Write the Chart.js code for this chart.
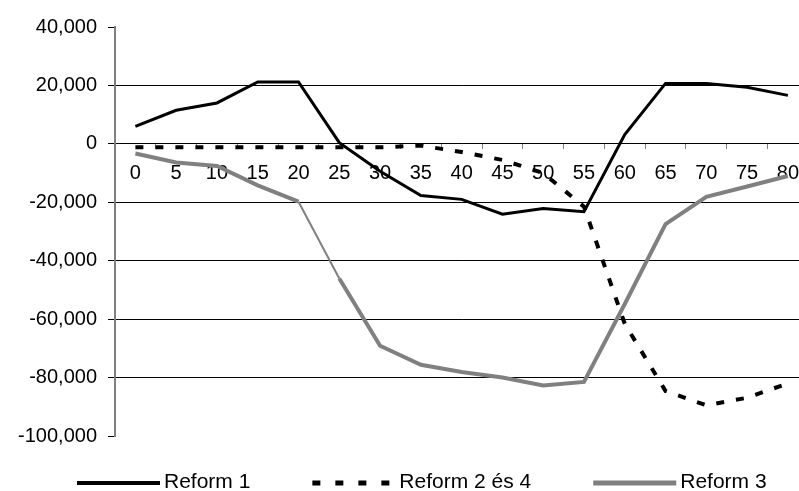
<!DOCTYPE html>
<html>
<head>
<meta charset="utf-8">
<script src="https://cdn.jsdelivr.net/npm/chart.js@4/dist/chart.umd.min.js"></script>
<style>
  html, body { margin: 0; padding: 0; background: #fff; overflow: hidden; }
  #wrap { width: 812px; height: 491px; }
</style>
</head>
<body>
<div id="wrap"><canvas id="c" width="812" height="491"></canvas></div>
<script>
// ---- data ----
const categories = ['0','5','10','15','20','25','30','35','40','45','50','55','60','65','70','75','80'];
const seriesNames = ['Reform 1', 'Reform 2 és 4', 'Reform 3'];
const reform1 = [6000, 11500, 14000, 21200, 21200, 400, -9400, -17700, -19000, -24100, -22100, -23200, 3200, 20700, 20700, 19400, 16600];
const reform2and4 = [-1200, -1200, -1200, -1200, -1200, -1200, -1200, -600, -2800, -5500, -10000, -21500, -61600, -84600, -89500, -86900, -82000];
const reform3 = [-3300, -6400, -7600, -14200, -19800, -46100, -69100, -75600, -78100, -80000, -82700, -81500, -54800, -27500, -18100, -14600, -11000];
const yTickValues = [40000, 20000, 0, -20000, -40000, -60000, -80000, -100000];

// ---- style ----
const FONT = "'Liberation Sans', Arial, sans-serif";
const GRAY = '#808080';

// custom legend drawn below the plot (keeps unequal spacing like the original)
const legendStyles = [
  { width: 4, dash: [] },
  { width: 5, dash: [8, 15] },
  { width: 5, dash: [] }
];
const bottomLegend = {
  id: 'bottomLegend',
  afterDraw(chart) {
    const ctx = chart.ctx;
    const startX = 77, y = 483, boxW = 83, textGap = 4, itemGap = 62;
    ctx.save();
    ctx.font = '21px ' + FONT;
    ctx.textBaseline = 'middle';
    ctx.textAlign = 'left';
    let x = startX;
    chart.data.datasets.forEach((ds, i) => {
      const st = legendStyles[i];
      ctx.beginPath();
      ctx.setLineDash(st.dash);
      ctx.lineWidth = st.width;
      ctx.strokeStyle = ds.borderColor;
      ctx.lineCap = 'butt';
      ctx.moveTo(x, y);
      ctx.lineTo(x + boxW, y);
      ctx.stroke();
      ctx.setLineDash([]);
      ctx.fillStyle = '#000';
      const tx = x + boxW + textGap;
      ctx.fillText(ds.label, tx, y - 1);
      x = tx + ctx.measureText(ds.label).width + itemGap;
    });
    ctx.restore();
  }
};

new Chart(document.getElementById('c'), {
  type: 'line',
  data: {
    labels: categories,
    datasets: [
      {
        label: seriesNames[0],
        data: reform1,
        borderColor: '#000',
        backgroundColor: '#000',
        borderWidth: 3,
        pointRadius: 0,
        tension: 0,
        fill: false
      },
      {
        label: seriesNames[1],
        data: reform2and4,
        borderColor: '#000',
        backgroundColor: '#000',
        borderWidth: 4,
        borderDash: [8, 12],
        pointRadius: 0,
        tension: 0,
        fill: false
      },
      {
        label: seriesNames[2],
        data: reform3,
        borderColor: GRAY,
        backgroundColor: GRAY,
        borderWidth: 4,
        pointRadius: 0,
        tension: 0,
        fill: false,
        segment: {
          borderWidth: c => (c.p0DataIndex === 4 ? 2 : 4)
        }
      }
    ]
  },
  options: {
    responsive: false,
    animation: false,
    devicePixelRatio: 1,
    layout: { padding: { top: 27, left: 0, right: 0, bottom: 55 } },
    plugins: {
      legend: { display: false },
      tooltip: { enabled: false }
    },
    scales: {
      x: {
        type: 'category',
        position: { y: 0 },
        offset: true,
        grid: {
          display: true,
          offset: true,
          drawOnChartArea: false,
          drawTicks: true,
          tickLength: 5,
          tickColor: GRAY,
          tickWidth: 1
        },
        border: { display: false },
        ticks: {
          color: '#000',
          font: { family: FONT, size: 20 },
          padding: 13,
          maxRotation: 0,
          autoSkip: false
        },
        afterFit(scale) { scale.height = 0; }
      },
      y: {
        type: 'linear',
        position: 'left',
        min: -100000,
        max: 40000,
        afterBuildTicks(scale) {
          scale.ticks = yTickValues.map(v => ({ value: v }));
        },
        grid: {
          color: c => (c.tick && (c.tick.value === 40000 || c.tick.value === -100000)) ? 'rgba(0,0,0,0)' : '#000',
          lineWidth: 1,
          tickColor: '#000',
          tickLength: 7,
          drawTicks: true
        },
        border: { display: true, color: GRAY, width: 2 },
        ticks: {
          color: '#000',
          font: { family: FONT, size: 20 },
          padding: 11,
          callback: v => Number(v).toLocaleString('en-US')
        },
        afterFit(scale) { scale.width = 115; }
      }
    }
  },
  plugins: [bottomLegend]
});
</script>
</body>
</html>
